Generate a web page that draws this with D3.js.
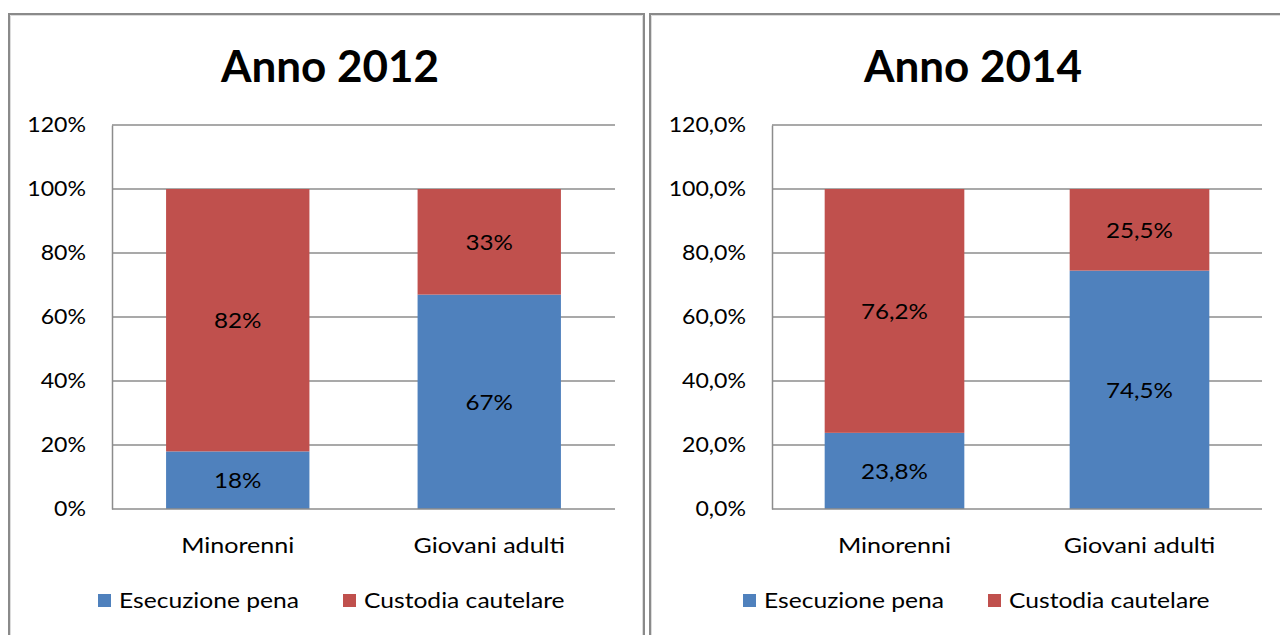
<!DOCTYPE html>
<html>
<head>
<meta charset="utf-8">
<script src="https://cdn.jsdelivr.net/npm/d3@7"></script>
<style>
  html, body { margin: 0; padding: 0; background: #fff; }
  svg { display: block; font-family: Lato, "Open Sans", sans-serif; }
</style>
</head>
<body>
<svg id="chart" width="1280" height="635"></svg>
<script>
// Categories and series
const categories = ["Minorenni", "Giovani adulti"];
const seriesNames = ["Esecuzione pena", "Custodia cautelare"];
const seriesColors = ["#4F81BD", "#C0504D"];

// Share of detainees (%) by legal position
const esecuzione2012 = [18, 67];
const custodia2012 = [82, 33];
const esecuzione2014 = [23.8, 74.5];
const custodia2014 = [76.2, 25.5];

// Value axis ticks
const yTicks = [0, 20, 40, 60, 80, 100, 120];

const panels = [
  {
    title: "Anno 2012",
    titleX: 330,
    series: [esecuzione2012, custodia2012],
    decimals: 0,
    frame: { x0: 9, x1: 644 },
    plot: { left: 112, right: 615 },
    legendX: [98, 343]
  },
  {
    title: "Anno 2014",
    titleX: 973,
    series: [esecuzione2014, custodia2014],
    decimals: 1,
    frame: { x0: 650, x1: 1290 },
    plot: { left: 772, right: 1262 },
    legendX: [743, 988]
  }
];

const svg = d3.select("#chart");
const plotTop = 125, plotBottom = 509;
const gridColor = "#8c8c8c";

// Italian-style percentage text: decimal comma
const pct = (v, dec) => d3.format("." + dec + "f")(v).replace(".", ",") + "%";

// Widen glyphs horizontally while keeping each text anchored where it was
function widen(sel, sx) {
  sel.each(function () {
    const t = d3.select(this);
    const x = +t.attr("x") || 0;
    t.attr("x", x / sx).attr("transform", `scale(${sx},1)`);
  });
}

panels.forEach(p => {
  const g = svg.append("g");

  // Panel frame (double grey rule)
  const fr = p.frame;
  const closeRight = fr.x1 < 1280;
  g.append("path")
    .attr("d", `M${fr.x0},640 V14 H${fr.x1} ${closeRight ? "V640" : ""}`)
    .attr("fill", "none").attr("stroke", "#8a8a8a").attr("stroke-width", 2);
  g.append("path")
    .attr("d", `M${fr.x0 + 1.5},640 V15.5 H${fr.x1 - 1.5} ${closeRight ? "V640" : ""}`)
    .attr("fill", "none").attr("stroke", "#dcdcdc").attr("stroke-width", 1);

  const y = d3.scaleLinear().domain([0, 120]).range([plotBottom, plotTop]);
  const x = d3.scaleBand().domain(categories)
    .range([p.plot.left, p.plot.right])
    .paddingInner(0.43).paddingOuter(0.215);

  // Title
  g.append("text")
    .attr("x", p.titleX)
    .attr("y", 82)
    .attr("text-anchor", "middle")
    .attr("font-weight", "bold")
    .attr("font-size", 44)
    .text(p.title);

  // Horizontal gridlines
  g.append("g").selectAll("line").data(yTicks.filter(t => t > 0)).join("line")
    .attr("x1", p.plot.left).attr("x2", p.plot.right)
    .attr("y1", d => y(d)).attr("y2", d => y(d))
    .attr("stroke", gridColor).attr("stroke-width", 1.5);

  // Stacked bars
  const stackData = categories.map((c, i) => {
    const o = { cat: c };
    seriesNames.forEach((s, k) => { o[s] = p.series[k][i]; });
    return o;
  });
  const stacked = d3.stack().keys(seriesNames)(stackData);
  const layers = g.append("g").selectAll("g").data(stacked).join("g")
    .attr("fill", (d, k) => seriesColors[k]);
  layers.selectAll("rect").data(d => d).join("rect")
    .attr("x", d => x(d.data.cat))
    .attr("width", x.bandwidth())
    .attr("y", d => y(d[1]))
    .attr("height", d => y(d[0]) - y(d[1]));

  // Value labels centred in each segment
  stacked.forEach((layer, k) => {
    const lbl = g.append("g").selectAll("text").data(layer).join("text")
      .attr("x", d => x(d.data.cat) + x.bandwidth() / 2)
      .attr("y", d => y((d[0] + d[1]) / 2))
      .attr("dy", "0.36em")
      .attr("text-anchor", "middle")
      .attr("font-size", 22)
      .attr("fill", "#000")
      .text(d => pct(d.data[seriesNames[k]], p.decimals));
    widen(lbl, 1.1);
  });

  // Value axis
  const yAxis = d3.axisLeft(y).tickValues(yTicks).tickSize(0).tickPadding(26)
    .tickFormat(d => pct(d, p.decimals));
  const ya = g.append("g").attr("transform", `translate(${p.plot.left},0)`).call(yAxis);
  ya.select(".domain").attr("stroke", gridColor).attr("stroke-width", 1.5);
  const yt = ya.selectAll("text").attr("font-size", 21).attr("fill", "#000")
    .attr("font-family", "Lato, sans-serif");
  widen(yt, 1.1);

  // Category axis
  const xAxis = d3.axisBottom(x).tickSize(0);
  const xa = g.append("g").attr("transform", `translate(0,${plotBottom})`).call(xAxis);
  xa.select(".domain").attr("stroke", gridColor).attr("stroke-width", 1.5)
    .attr("d", `M${p.plot.left},0H${p.plot.right}`);
  const xt = xa.selectAll("text").attr("font-size", 22).attr("fill", "#000")
    .attr("font-family", "Lato, sans-serif")
    .attr("y", 44).attr("dy", null);
  widen(xt, 1.14);

  // Legend
  const leg = g.append("g").selectAll("g").data(seriesNames).join("g")
    .attr("transform", (d, k) => `translate(${p.legendX[k]},594)`);
  leg.append("rect").attr("x", 0).attr("y", 0).attr("width", 13).attr("height", 13)
    .attr("fill", (d, k) => seriesColors[k]);
  const lt = leg.append("text").attr("x", 21).attr("y", 14)
    .attr("font-size", 22).attr("fill", "#000").text(d => d);
  widen(lt, 1.12);
});
</script>
</body>
</html>
